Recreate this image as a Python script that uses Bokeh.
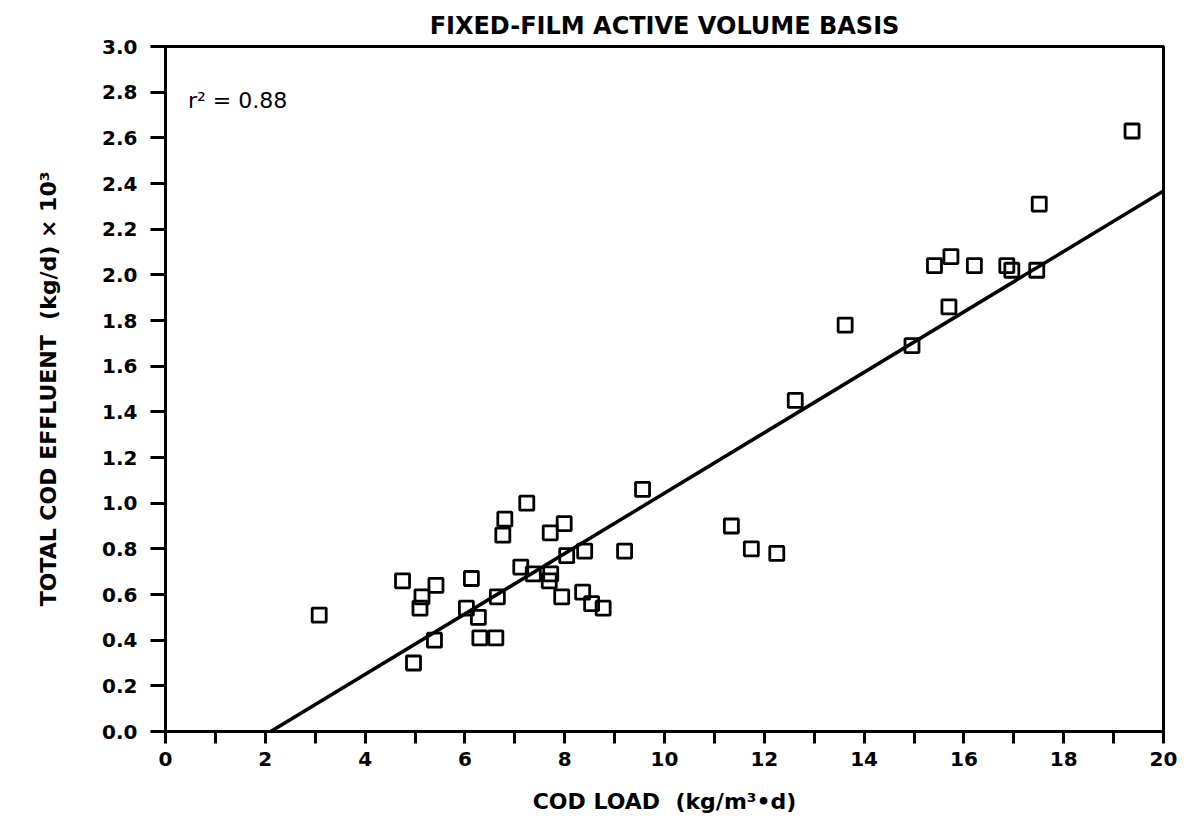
from bokeh.plotting import figure
from bokeh.models import Range1d, FixedTicker, NumeralTickFormatter, Label, ColumnDataSource
from bokeh.embed import file_html
from bokeh.resources import INLINE

# COD load (kg/m3.d) and total COD in the effluent (kg/d x 10^3)
cod_load = [3.08, 4.75, 5.42, 5.14, 5.10, 5.39, 4.97, 6.13, 6.03, 6.27, 6.30, 6.62,
            6.65, 6.80, 6.76, 7.24, 7.12, 7.37, 7.71, 7.99, 7.72, 7.69, 7.94, 8.04,
            8.40, 8.36, 8.54, 8.77, 9.20, 9.56, 11.34, 11.74, 12.25, 12.62, 13.62,
            14.96, 15.41, 15.74, 15.70, 16.21, 16.86, 16.96, 17.46, 17.51, 19.37]
cod_effluent = [0.51, 0.66, 0.64, 0.59, 0.54, 0.40, 0.30, 0.67, 0.54, 0.50, 0.41, 0.41,
                0.59, 0.93, 0.86, 1.00, 0.72, 0.69, 0.87, 0.91, 0.69, 0.66, 0.59, 0.77,
                0.79, 0.61, 0.56, 0.54, 0.79, 1.06, 0.90, 0.80, 0.78, 1.45, 1.78,
                1.69, 2.04, 2.08, 1.86, 2.04, 2.04, 2.02, 2.02, 2.31, 2.63]

# least-squares fit, r^2 = 0.88
fit_slope = 0.1323
fit_intercept = -0.279
r_squared = "0.88"

x_major = [0, 2, 4, 6, 8, 10, 12, 14, 16, 18, 20]
x_minor = [1, 3, 5, 7, 9, 11, 13, 15, 17, 19]
y_major = [0.0, 0.2, 0.4, 0.6, 0.8, 1.0, 1.2, 1.4, 1.6, 1.8, 2.0, 2.2, 2.4, 2.6, 2.8, 3.0]

FONT = "DejaVu Sans"
GAP = "\u00a0\u00a0"  # wide gap kept in SVG text

p = figure(width=1188, height=824, x_range=Range1d(0, 20), y_range=Range1d(0, 3.0),
           output_backend="svg", toolbar_location=None,
           min_border_left=165, min_border_right=25, min_border_top=46, min_border_bottom=93,
           title="FIXED-FILM ACTIVE VOLUME BASIS")

p.background_fill_color = "white"
p.border_fill_color = "white"
p.grid.visible = False
p.outline_line_color = "black"
p.outline_line_width = 3

p.title.align = "center"
p.title.text_font = FONT
p.title.text_font_size = "24px"
p.title.text_font_style = "bold"
p.title.text_color = "black"
p.title.standoff = 14

for ax in (p.xaxis[0], p.yaxis[0]):
    ax.axis_line_width = 3
    ax.axis_line_color = "black"
    ax.major_tick_line_width = 3
    ax.minor_tick_line_width = 3
    ax.major_tick_in = 0
    ax.minor_tick_in = 0
    ax.major_label_text_font = FONT
    ax.major_label_text_font_style = "bold"
    ax.major_label_text_font_size = "20px"
    ax.major_label_text_color = "black"
    ax.axis_label_text_font = FONT
    ax.axis_label_text_font_style = "bold"
    ax.axis_label_text_font_size = "22px"
    ax.axis_label_text_color = "black"

p.xaxis.ticker = FixedTicker(ticks=x_major, minor_ticks=x_minor)
p.xaxis.major_tick_out = 12
p.xaxis.minor_tick_out = 12
p.xaxis.major_label_standoff = 8
p.xaxis.axis_label = "COD LOAD" + GAP + "(kg/m³•d)"
p.xaxis.axis_label_standoff = 20

p.yaxis.ticker = FixedTicker(ticks=y_major, minor_ticks=[])
p.yaxis.formatter = NumeralTickFormatter(format="0.0")
p.yaxis.major_tick_out = 15
p.yaxis.minor_tick_out = 0
p.yaxis.major_label_standoff = 13
p.yaxis.axis_label = "TOTAL COD EFFLUENT" + GAP + "(kg/d) × 10³"
p.yaxis.axis_label_standoff = 38

# regression line from the x-intercept to the right edge of the plot
x_start = -fit_intercept / fit_slope
x_end = 20
fit_src = ColumnDataSource(dict(x=[x_start, x_end],
                                y=[fit_slope * x_start + fit_intercept,
                                   fit_slope * x_end + fit_intercept]))
p.line("x", "y", source=fit_src, line_color="black", line_width=3.5)

pts = ColumnDataSource(dict(x=cod_load, y=cod_effluent))
p.scatter("x", "y", source=pts, marker="square", size=14, line_color="black",
          line_width=2.8, fill_alpha=0)

p.add_layout(Label(x=0.45, y=2.71, text="r² = " + r_squared, text_font=FONT,
                   text_font_size="22px", text_color="black"))

open("out.html", "w").write(file_html(p, INLINE))
